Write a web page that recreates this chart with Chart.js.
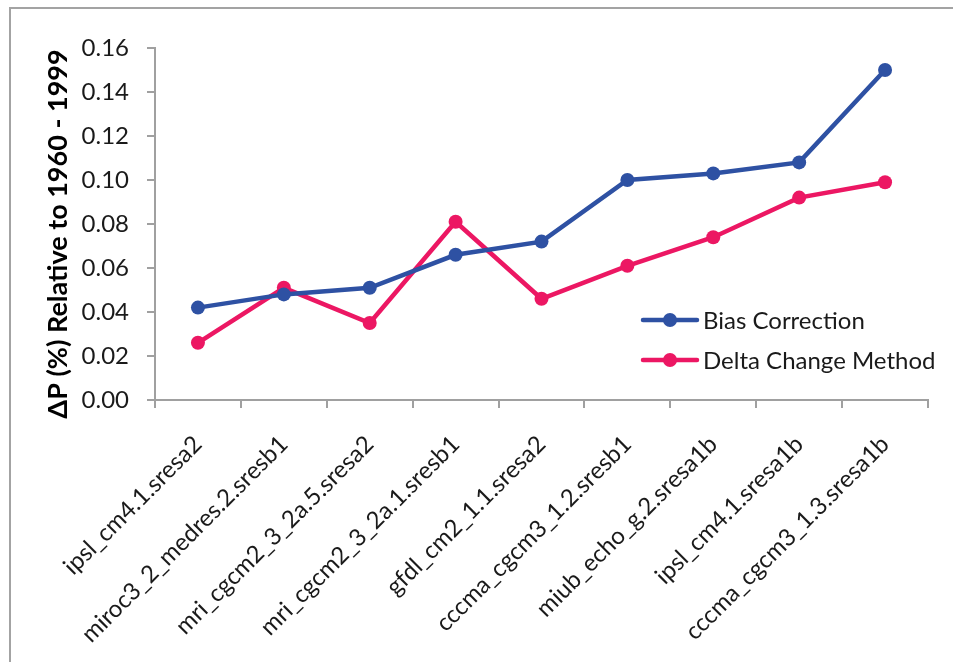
<!DOCTYPE html>
<html>
<head>
<meta charset="utf-8">
<script src="https://cdn.jsdelivr.net/npm/chart.js@4/dist/chart.umd.min.js"></script>
<style>
  html, body { margin: 0; padding: 0; background: #fff; }
  #wrap { position: relative; width: 953px; height: 662px; overflow: hidden; }
  #frame { position: absolute; left: 9px; top: 7px; width: 1000px; height: 700px;
           border-top: 2px solid #a3a3a3; border-left: 2px solid #a3a3a3; }
  canvas { position: absolute; left: 0; top: 0; }
</style>
</head>
<body>
<div id="wrap">
  <div id="frame"></div>
  <canvas id="c" width="953" height="662"></canvas>
</div>
<script>
// GCM runs, ordered by the bias-corrected change
const models = [
  'ipsl_cm4.1.sresa2',
  'miroc3_2_medres.2.sresb1',
  'mri_cgcm2_3_2a.5.sresa2',
  'mri_cgcm2_3_2a.1.sresb1',
  'gfdl_cm2_1.1.sresa2',
  'cccma_cgcm3_1.2.sresb1',
  'miub_echo_g.2.sresa1b',
  'ipsl_cm4.1.sresa1b',
  'cccma_cgcm3_1.3.sresa1b'
];

// Change in precipitation relative to 1960 - 1999
const biasCorrection = [0.042, 0.048, 0.051, 0.066, 0.072, 0.100, 0.103, 0.108, 0.150];
const deltaChange    = [0.026, 0.051, 0.035, 0.081, 0.046, 0.061, 0.074, 0.092, 0.099];

const yTicks = [0, 0.02, 0.04, 0.06, 0.08, 0.10, 0.12, 0.14, 0.16];
const yTitle = 'ΔP (%) Relative to 1960 - 1999';

const BLUE = '#2E51A3';
const PINK = '#EC1763';
const AXIS = '#a0a0a0';
const FONT = 'Lato, "Open Sans", sans-serif';
const TEXT_SIZE = 24;

// Vertical axis title, drawn a little below the plot's midline
const yAxisTitle = {
  id: 'yAxisTitle',
  afterDraw(chart) {
    const ctx = chart.ctx;
    ctx.save();
    ctx.translate(58, 234);
    ctx.rotate(-Math.PI / 2);
    ctx.fillStyle = '#000';
    ctx.font = 'bold 27px ' + FONT;
    ctx.textAlign = 'center';
    ctx.textBaseline = 'middle';
    ctx.fillText(yTitle, 0, 0);
    ctx.restore();
  }
};

// Legend drawn inside the plot area, lower right
const innerLegend = {
  id: 'innerLegend',
  afterDatasetsDraw(chart) {
    const ctx = chart.ctx;
    const x0 = 643, x1 = 697, tx = 703;
    const rows = [320, 360];
    ctx.save();
    chart.data.datasets.forEach((ds, i) => {
      const y = rows[i];
      ctx.strokeStyle = ds.borderColor;
      ctx.lineWidth = 4.5;
      ctx.lineCap = 'round';
      ctx.beginPath();
      ctx.moveTo(x0, y);
      ctx.lineTo(x1, y);
      ctx.stroke();
      ctx.fillStyle = ds.backgroundColor;
      ctx.beginPath();
      ctx.arc((x0 + x1) / 2, y, 7, 0, Math.PI * 2);
      ctx.fill();
      ctx.fillStyle = '#1a1a1a';
      ctx.font = TEXT_SIZE + 'px ' + FONT;
      ctx.textAlign = 'left';
      ctx.textBaseline = 'middle';
      ctx.fillText(ds.label, tx, y + 1);
    });
    ctx.restore();
  }
};

new Chart(document.getElementById('c'), {
  type: 'line',
  data: {
    labels: models,
    datasets: [
      {
        label: 'Bias Correction',
        data: biasCorrection,
        borderColor: BLUE,
        backgroundColor: BLUE,
        borderWidth: 4.5,
        pointRadius: 7,
        pointHoverRadius: 7,
        pointBorderWidth: 0,
        tension: 0
      },
      {
        label: 'Delta Change Method',
        data: deltaChange,
        borderColor: PINK,
        backgroundColor: PINK,
        borderWidth: 4.5,
        pointRadius: 7,
        pointHoverRadius: 7,
        pointBorderWidth: 0,
        tension: 0
      }
    ]
  },
  options: {
    responsive: false,
    animation: false,
    devicePixelRatio: 1,
    layout: { padding: { left: 10, top: 48, right: 25, bottom: 0 } },
    plugins: {
      legend: { display: false },
      tooltip: { enabled: false }
    },
    scales: {
      x: {
        type: 'category',
        offset: true,
        grid: {
          display: true,
          offset: true,
          drawOnChartArea: false,
          drawTicks: true,
          tickLength: 8,
          color: AXIS,
          lineWidth: 2
        },
        border: { display: true, color: AXIS, width: 2 },
        ticks: {
          autoSkip: false,
          maxRotation: 45,
          minRotation: 45,
          padding: 22,
          color: '#1a1a1a',
          font: { family: FONT, size: TEXT_SIZE }
        },
        afterFit(scale) { scale.height = 262; }
      },
      y: {
        min: 0,
        max: 0.16,
        afterBuildTicks(scale) { scale.ticks = yTicks.map(v => ({ value: v })); },
        grid: {
          display: true,
          drawOnChartArea: false,
          drawTicks: true,
          tickLength: 8,
          color: AXIS,
          lineWidth: 2
        },
        border: { display: true, color: AXIS, width: 2 },
        ticks: {
          padding: 18,
          color: '#1a1a1a',
          font: { family: FONT, size: TEXT_SIZE },
          callback: v => Number(v).toFixed(2)
        },
        afterFit(scale) { scale.width = 145; }
      }
    }
  },
  plugins: [yAxisTitle, innerLegend]
});
</script>
</body>
</html>
